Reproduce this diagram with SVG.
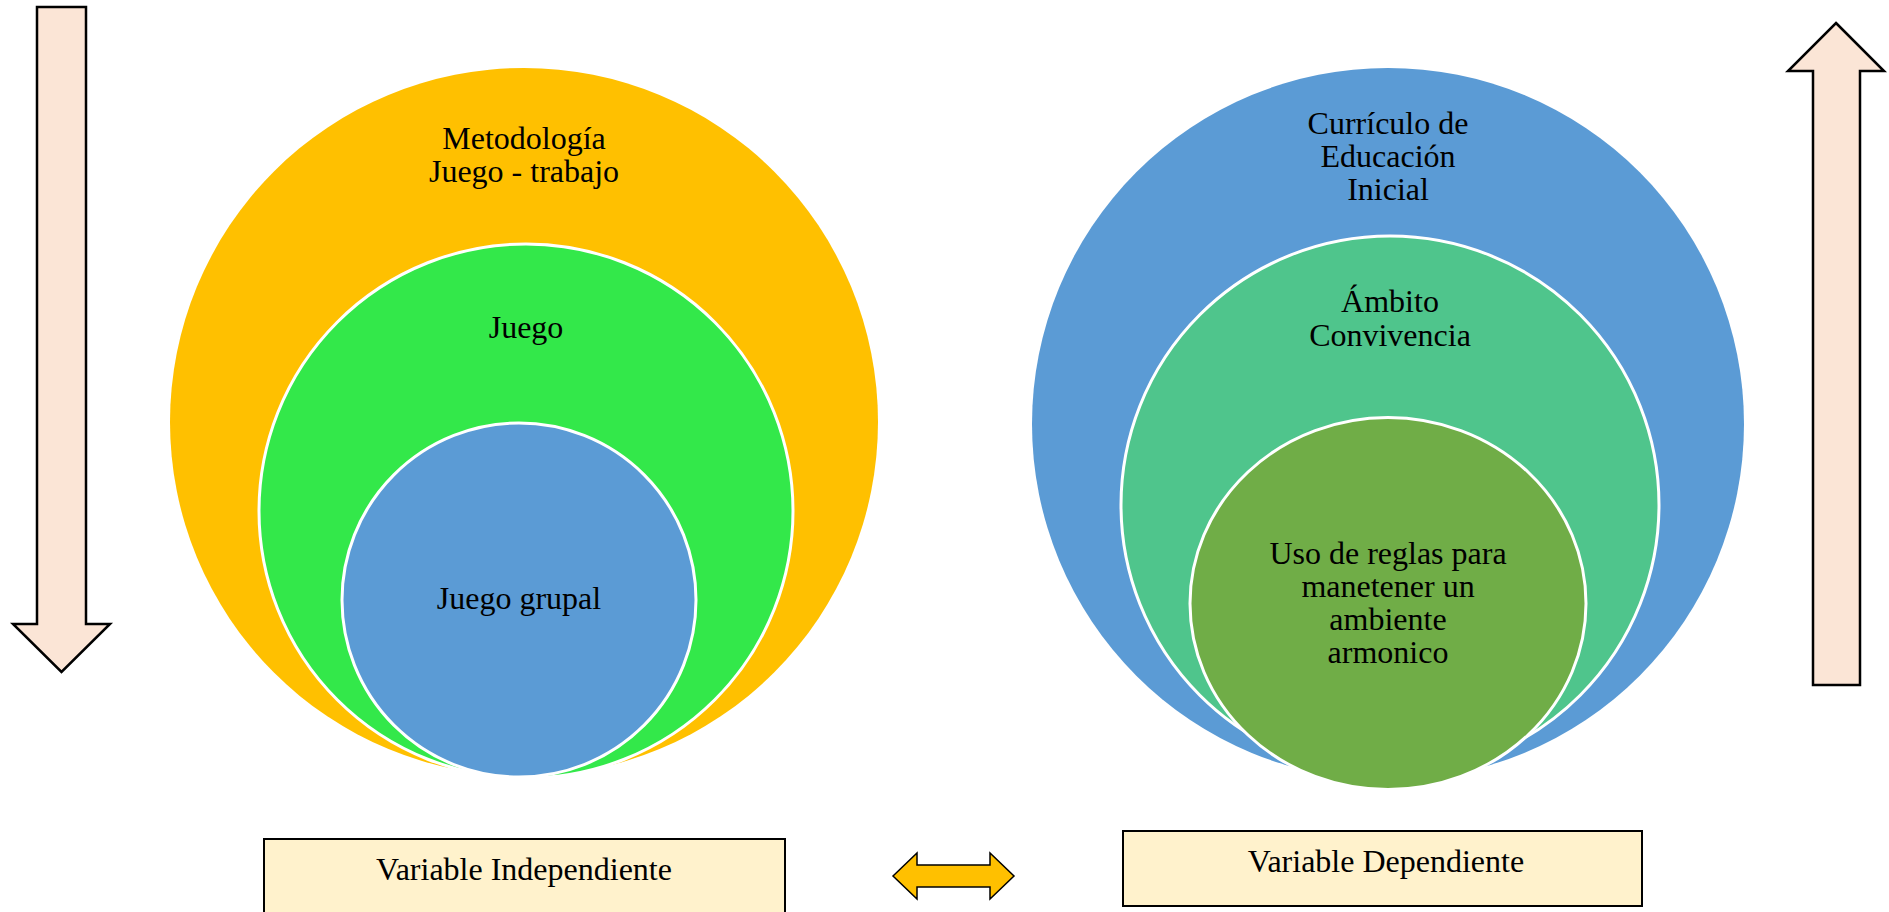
<svg xmlns="http://www.w3.org/2000/svg" width="1889" height="912" viewBox="0 0 1889 912">
<style>
.t{font-family:"Liberation Serif","Times New Roman",serif;font-size:32px;fill:#000;text-anchor:middle}
.varrow{fill:#FBE5D6;stroke:#000;stroke-width:2.5;stroke-linejoin:miter}
.box{fill:#FFF2CC;stroke:#000;stroke-width:2}
.inner{stroke:#fff;stroke-width:3}
</style>
<rect width="1889" height="912" fill="#fff"/>
<g id="arrow-down">
<polygon class="varrow" points="37,7 86,7 86,624 110,624 61.5,672 13,624 37,624"/>
</g>
<g id="arrow-up">
<polygon class="varrow" points="1836,23 1884,71 1860,71 1860,685 1813,685 1813,71 1788,71"/>
</g>
<g id="left-outer">
<circle cx="524" cy="422" r="354" fill="#FFC000"/>
<text class="t" x="524" y="149">Metodología</text>
<text class="t" x="524" y="182">Juego - trabajo</text>
</g>
<g id="left-middle">
<circle class="inner" cx="526" cy="511" r="267" fill="#33E84A"/>
<text class="t" x="526" y="338">Juego</text>
</g>
<g id="left-inner">
<circle class="inner" cx="519" cy="600" r="177" fill="#5B9BD5"/>
<text class="t" x="519" y="609">Juego grupal</text>
</g>
<g id="right-outer">
<circle cx="1388" cy="424" r="356" fill="#5B9BD5"/>
<text class="t" x="1388" y="134">Currículo de</text>
<text class="t" x="1388" y="167">Educación</text>
<text class="t" x="1388" y="200">Inicial</text>
</g>
<g id="right-middle">
<circle class="inner" cx="1390" cy="505" r="269" fill="#4FC58C"/>
<text class="t" x="1390" y="312">Ámbito</text>
<text class="t" x="1390" y="346">Convivencia</text>
</g>
<g id="right-inner">
<ellipse class="inner" cx="1388" cy="603.5" rx="198" ry="186" fill="#70AD47"/>
<text class="t" x="1388" y="564">Uso de reglas para</text>
<text class="t" x="1388" y="597">manetener un</text>
<text class="t" x="1388" y="630">ambiente</text>
<text class="t" x="1388" y="663">armonico</text>
</g>
<g id="box-independiente">
<rect class="box" x="264" y="839" width="521" height="80"/>
<text class="t" x="524" y="880">Variable Independiente</text>
</g>
<g id="box-dependiente">
<rect class="box" x="1123" y="831" width="519" height="75"/>
<text class="t" x="1386" y="872">Variable Dependiente</text>
</g>
<g id="connectors">
<polygon points="893,876 917,853 917,865 990,865 990,853 1014,876 990,899 990,887 917,887 917,899" fill="#FFC000" stroke="#000" stroke-width="1.5"/>
</g>
</svg>
